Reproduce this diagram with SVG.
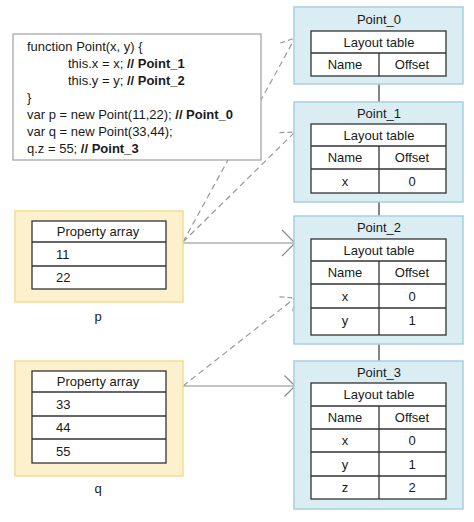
<svg xmlns="http://www.w3.org/2000/svg" width="474" height="522" viewBox="0 0 474 522">
<style>
text{font-family:"Liberation Sans",Arial,sans-serif;font-size:13px;fill:#1a1a1a}
.c{text-anchor:middle}
.b{font-weight:bold}
.code{fill:#fff;stroke:#a0a0a0;stroke-width:1.2}
.yel{fill:#fdf0cc;stroke:#f3dc8e;stroke-width:1.5}
.blu{fill:#d9edf3;stroke:#a6d0df;stroke-width:1.5}
.tbl{fill:#fff;stroke:#333;stroke-width:1.3}
.ln{stroke:#333;stroke-width:1.3;fill:none}
.dash{stroke:#999;stroke-width:1.2;stroke-dasharray:6 4;fill:none}
.sol{stroke:#8a8a8a;stroke-width:1.2;fill:none}
.link{stroke:#333;stroke-width:1.2}
</style>
<defs>
<marker id="ah" markerUnits="userSpaceOnUse" markerWidth="30" markerHeight="30" refX="0" refY="0" viewBox="-20 -15 25 30" orient="auto" overflow="visible">
<path d="M-13,-13 L0,0 L-13,13" fill="none" stroke="#8a8a8a" stroke-width="1.2"/>
</marker>
<marker id="ahs" markerUnits="userSpaceOnUse" markerWidth="30" markerHeight="30" refX="0" refY="0" viewBox="-20 -15 25 30" orient="auto" overflow="visible">
<path d="M-10.5,-10.5 L0,0 L-10.5,10.5" fill="none" stroke="#8a8a8a" stroke-width="1.2"/>
</marker>
<marker id="ahd" markerUnits="userSpaceOnUse" markerWidth="30" markerHeight="30" refX="0" refY="0" viewBox="-20 -15 25 30" orient="auto" overflow="visible">
<path d="M-11.5,-10.5 L0,0 L-11.5,10.5" fill="none" stroke="#999" stroke-width="1.2" stroke-dasharray="5 3"/>
</marker>
</defs>
<rect width="474" height="522" fill="#fff"/>

<g id="connectors">
<line class="dash" x1="183" y1="242" x2="295" y2="38" marker-end="url(#ahd)"/>
<line class="dash" x1="183" y1="242" x2="295" y2="132" marker-end="url(#ahd)"/>
<line class="dash" x1="183" y1="386" x2="295" y2="298" marker-end="url(#ahd)"/>
<line class="sol" x1="183" y1="243" x2="295" y2="243" marker-end="url(#ah)"/>
<line class="sol" x1="183" y1="386" x2="295" y2="386" marker-end="url(#ahs)"/>
<line class="link" x1="379" y1="84" x2="379" y2="102"/>
<line class="link" x1="379" y1="202" x2="379" y2="216"/>
<line class="link" x1="379" y1="344" x2="379" y2="361"/>
</g>

<g id="code">
<rect class="code" x="13" y="34" width="248" height="126"/>
<text x="27" y="51">function Point(x, y) {</text>
<text x="68" y="68">this.x = x; <tspan class="b">// Point_1</tspan></text>
<text x="68" y="85">this.y = y; <tspan class="b">// Point_2</tspan></text>
<text x="27" y="102">}</text>
<text x="27" y="119">var p = new Point(11,22); <tspan class="b">// Point_0</tspan></text>
<text x="27" y="136">var q = new Point(33,44);</text>
<text x="27" y="153">q.z = 55; <tspan class="b">// Point_3</tspan></text>
</g>

<g id="p">
<rect class="yel" x="15" y="211" width="168" height="91"/>
<rect class="tbl" x="32" y="221" width="134" height="68"/>
<line class="ln" x1="32" y1="242" x2="166" y2="242"/>
<line class="ln" x1="32" y1="266" x2="166" y2="266"/>
<text class="c" x="98" y="236">Property array</text>
<text x="56" y="259">11</text>
<text x="56" y="282">22</text>
<text class="c" x="98" y="321">p</text>
</g>

<g id="q">
<rect class="yel" x="15" y="361" width="168" height="115"/>
<rect class="tbl" x="32" y="371" width="134" height="92"/>
<line class="ln" x1="32" y1="392" x2="166" y2="392"/>
<line class="ln" x1="32" y1="416" x2="166" y2="416"/>
<line class="ln" x1="32" y1="439" x2="166" y2="439"/>
<text class="c" x="98" y="386">Property array</text>
<text x="56" y="409">33</text>
<text x="56" y="432">44</text>
<text x="56" y="456">55</text>
<text class="c" x="98" y="493">q</text>
</g>

<g id="Point_0">
<rect class="blu" x="294" y="7" width="169" height="77"/>
<text class="c" x="379" y="24">Point_0</text>
<rect class="tbl" x="311" y="31" width="135" height="45"/>
<line class="ln" x1="311" y1="53" x2="446" y2="53"/>
<line class="ln" x1="379" y1="53" x2="379" y2="76"/>
<text class="c" x="379" y="47">Layout table</text>
<text class="c" x="345" y="69">Name</text>
<text class="c" x="412" y="69">Offset</text>
</g>

<g id="Point_1">
<rect class="blu" x="294" y="102" width="169" height="100"/>
<text class="c" x="379" y="118">Point_1</text>
<rect class="tbl" x="311" y="124" width="135" height="69"/>
<line class="ln" x1="311" y1="146" x2="446" y2="146"/>
<line class="ln" x1="311" y1="169" x2="446" y2="169"/>
<line class="ln" x1="379" y1="146" x2="379" y2="193"/>
<text class="c" x="379" y="140">Layout table</text>
<text class="c" x="345" y="162">Name</text>
<text class="c" x="412" y="162">Offset</text>
<text class="c" x="345" y="186">x</text>
<text class="c" x="412" y="186">0</text>
</g>

<g id="Point_2">
<rect class="blu" x="294" y="216" width="169" height="128"/>
<text class="c" x="379" y="232">Point_2</text>
<rect class="tbl" x="311" y="239" width="135" height="96"/>
<line class="ln" x1="311" y1="261" x2="446" y2="261"/>
<line class="ln" x1="311" y1="284" x2="446" y2="284"/>
<line class="ln" x1="311" y1="308" x2="446" y2="308"/>
<line class="ln" x1="379" y1="261" x2="379" y2="335"/>
<text class="c" x="379" y="255">Layout table</text>
<text class="c" x="345" y="277">Name</text>
<text class="c" x="412" y="277">Offset</text>
<text class="c" x="345" y="301">x</text>
<text class="c" x="412" y="301">0</text>
<text class="c" x="345" y="325">y</text>
<text class="c" x="412" y="325">1</text>
</g>

<g id="Point_3">
<rect class="blu" x="294" y="361" width="169" height="148"/>
<text class="c" x="379" y="377">Point_3</text>
<rect class="tbl" x="311" y="383" width="135" height="116"/>
<line class="ln" x1="311" y1="406" x2="446" y2="406"/>
<line class="ln" x1="311" y1="429" x2="446" y2="429"/>
<line class="ln" x1="311" y1="452" x2="446" y2="452"/>
<line class="ln" x1="311" y1="476" x2="446" y2="476"/>
<line class="ln" x1="379" y1="406" x2="379" y2="499"/>
<text class="c" x="379" y="399">Layout table</text>
<text class="c" x="345" y="422">Name</text>
<text class="c" x="412" y="422">Offset</text>
<text class="c" x="345" y="445">x</text>
<text class="c" x="412" y="445">0</text>
<text class="c" x="345" y="469">y</text>
<text class="c" x="412" y="469">1</text>
<text class="c" x="345" y="492">z</text>
<text class="c" x="412" y="492">2</text>
</g>
</svg>
